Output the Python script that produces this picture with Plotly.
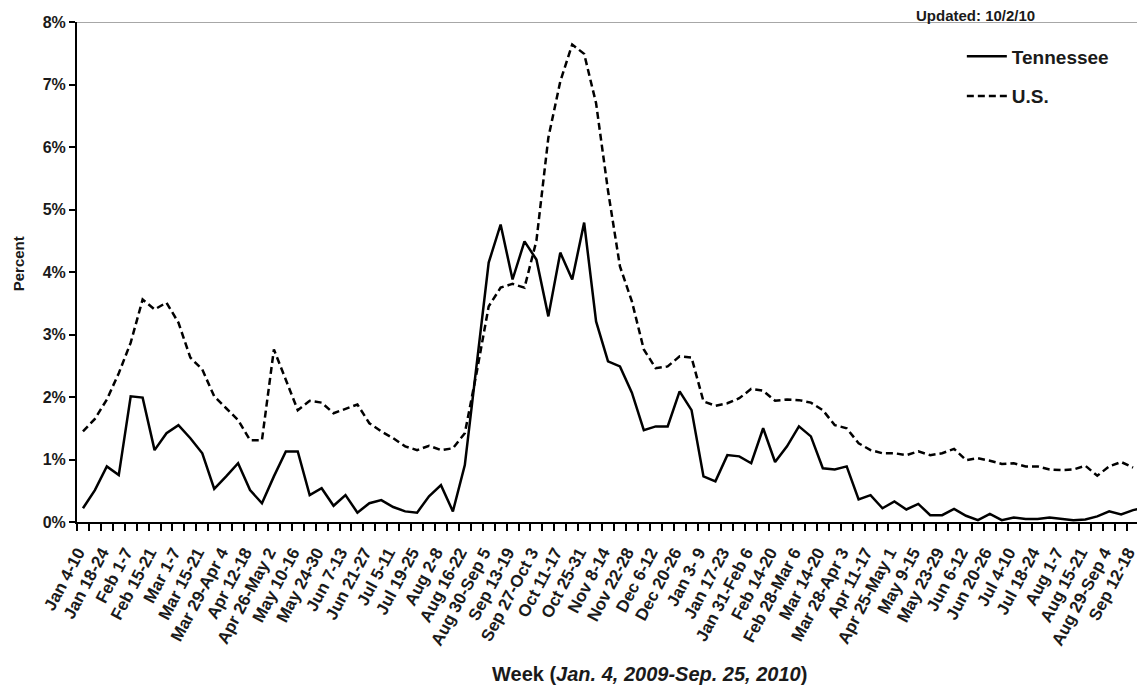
import plotly.graph_objects as go

week_labels = ["Jan 4-10", "Jan 18-24", "Feb 1-7", "Feb 15-21", "Mar 1-7", "Mar 15-21",
               "Mar 29-Apr 4", "Apr 12-18", "Apr 26-May 2", "May 10-16", "May 24-30",
               "Jun 7-13", "Jun 21-27", "Jul 5-11", "Jul 19-25", "Aug 2-8", "Aug 16-22",
               "Aug 30-Sep 5", "Sep 13-19", "Sep 27-Oct 3", "Oct 11-17", "Oct 25-31",
               "Nov 8-14", "Nov 22-28", "Dec 6-12", "Dec 20-26", "Jan 3- 9", "Jan 17-23",
               "Jan 31-Feb 6", "Feb 14-20", "Feb 28-Mar 6", "Mar 14-20", "Mar 28-Apr 3",
               "Apr 11-17", "Apr 25-May 1", "May 9-15", "May 23-29", "Jun 6-12",
               "Jun 20-26", "Jul 4-10", "Jul 18-24", "Aug 1-7", "Aug 15-21",
               "Aug 29-Sep 4", "Sep 12-18"]

tennessee = [0.22, 0.51, 0.89, 0.75, 2.01, 1.99, 1.15, 1.42, 1.55, 1.34,
             1.10, 0.53, 0.73, 0.94, 0.51, 0.30, 0.73, 1.13, 1.13, 0.43,
             0.54, 0.26, 0.43, 0.15, 0.30, 0.35, 0.24, 0.17, 0.15, 0.41,
             0.59, 0.17, 0.91, 2.50, 4.15, 4.76, 3.88, 4.49, 4.20, 3.29,
             4.31, 3.88, 4.79, 3.21, 2.57, 2.49, 2.07, 1.47, 1.53, 1.53,
             2.09, 1.79, 0.73, 0.65, 1.07, 1.05, 0.94, 1.50, 0.96, 1.21,
             1.53, 1.37, 0.86, 0.84, 0.89, 0.36, 0.43, 0.22, 0.33, 0.20,
             0.29, 0.11, 0.11, 0.21, 0.10, 0.03, 0.13, 0.03, 0.07, 0.05,
             0.05, 0.07, 0.05, 0.03, 0.04, 0.09, 0.17, 0.12, 0.19, 0.23]

us = [1.45, 1.65, 1.96, 2.38, 2.87, 3.56, 3.40, 3.51, 3.19, 2.63,
      2.44, 2.01, 1.82, 1.63, 1.31, 1.31, 2.76, 2.28, 1.79, 1.94,
      1.91, 1.74, 1.81, 1.88, 1.58, 1.45, 1.34, 1.21, 1.15, 1.22,
      1.15, 1.18, 1.42, 2.40, 3.45, 3.75, 3.81, 3.75, 4.50, 6.15,
      7.05, 7.64, 7.49, 6.70, 5.30, 4.09, 3.53, 2.76, 2.46, 2.49,
      2.65, 2.63, 1.93, 1.86, 1.90, 1.98, 2.13, 2.10, 1.94, 1.96,
      1.95, 1.91, 1.79, 1.55, 1.50, 1.26, 1.15, 1.10, 1.10, 1.07,
      1.13, 1.07, 1.10, 1.17, 0.99, 1.02, 0.98, 0.93, 0.94, 0.89,
      0.89, 0.84, 0.83, 0.84, 0.90, 0.74, 0.89, 0.96, 0.87]

y_ticks = [0, 1, 2, 3, 4, 5, 6, 7, 8]
y_tick_text = [f"{v}%" for v in y_ticks]

weeks_tn = list(range(len(tennessee)))
weeks_us = list(range(len(us)))
label_pos = list(range(0, 2 * len(week_labels), 2))

FONT = "Liberation Sans, Arial, sans-serif"
TXT = "#1a1a1a"

fig = go.Figure()
fig.add_trace(go.Scatter(x=weeks_tn, y=tennessee, mode="lines", name="Tennessee",
                         legendgroup="tn",
                         line=dict(color="black", width=2.5), cliponaxis=False))
fig.add_trace(go.Scatter(x=weeks_us, y=us, mode="lines", name="U.S.",
                         legendgroup="us",
                         line=dict(color="black", width=2.5, dash="7px,4px"),
                         cliponaxis=False))

fig.update_layout(
    width=1145, height=688,
    margin=dict(l=69, r=8, t=14, b=174, autoexpand=False),
    paper_bgcolor="white", plot_bgcolor="white",
    font=dict(family=FONT, color=TXT),
    showlegend=True,
    legend=dict(x=0.8285, y=0.969, xanchor="left", yanchor="top",
                font=dict(family=FONT, size=19, color=TXT, weight="bold"),
                traceorder="grouped", tracegroupgap=12,
                bgcolor="rgba(0,0,0,0)", borderwidth=0, itemwidth=40),
    xaxis=dict(range=[-0.5, 89.0], tickmode="array", tickvals=label_pos,
               ticktext=week_labels, tickangle=-62, automargin=False,
               tickfont=dict(family=FONT, size=17, color=TXT, weight="bold"),
               ticks="outside", ticklen=0, tickcolor="black",
               ticklabelstandoff=12, ticklabelshift=-5,
               showline=True, linecolor="black", linewidth=2,
               showgrid=False, zeroline=False,
               minor=dict(tickmode="linear", tick0=-0.5, dtick=1, ticks="outside",
                          ticklen=7, tickwidth=1.5, tickcolor="black", showgrid=False)),
    yaxis=dict(range=[0, 8], tickmode="array", tickvals=y_ticks, ticktext=y_tick_text,
               automargin=False,
               tickfont=dict(family=FONT, size=16, color=TXT, weight="bold"),
               ticks="outside", ticklen=6, tickwidth=1.5, tickcolor="black",
               showline=True, linecolor="black", linewidth=2,
               showgrid=False, zeroline=False),
)

fig.add_shape(type="line", xref="paper", yref="y", x0=0, x1=1.01, y0=8, y1=8,
              line=dict(color="#8a8a8a", width=1.5))

fig.add_annotation(xref="paper", yref="paper", x=-0.055, y=0.516, text="<b>Percent</b>",
                   textangle=-90, showarrow=False, xanchor="center", yanchor="middle",
                   font=dict(family=FONT, size=15, color=TXT))
fig.add_annotation(xref="paper", yref="paper", x=0.5365, y=-0.303,
                   text="<b>Week (<i>Jan. 4, 2009-Sep. 25, 2010</i>)</b>",
                   showarrow=False, xanchor="center", yanchor="middle",
                   font=dict(family=FONT, size=20, color=TXT))
fig.add_annotation(xref="paper", yref="paper", x=0.841, y=1.013,
                   text="<b>Updated: 10/2/10</b>", showarrow=False,
                   xanchor="center", yanchor="middle",
                   font=dict(family=FONT, size=15, color=TXT))

fig.write_html("out.html")
